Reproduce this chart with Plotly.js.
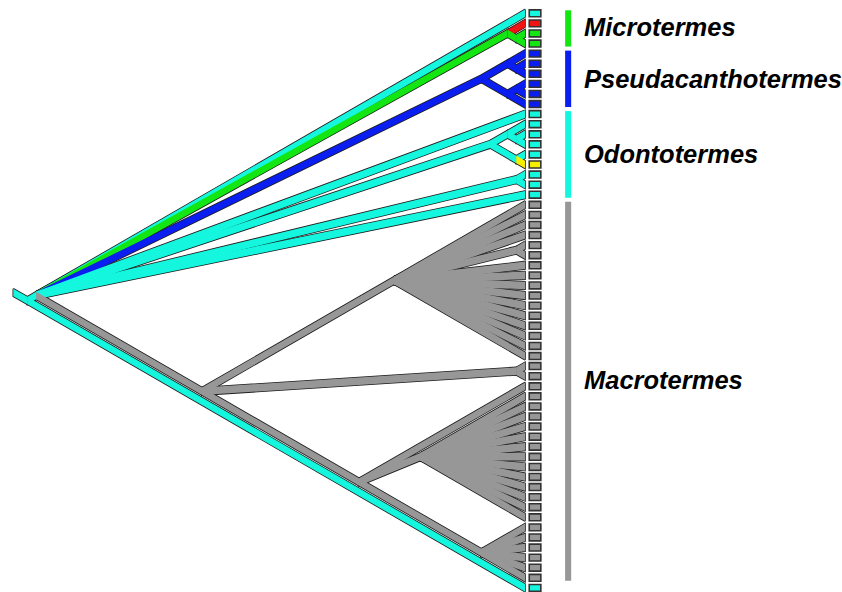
<!DOCTYPE html>
<html>
<head>
<meta charset="utf-8">
<script src="https://cdn.plot.ly/plotly-3.0.1.min.js"></script>
<style>html,body{margin:0;padding:0;background:#fff}</style>
</head>
<body>
<div id="chart" style="width:842px;height:592px"></div>
<script>
// Macrotermitinae cladogram, branches coloured by reconstructed character state.
// Topology (leaf numbers top to bottom, internal nodes labelled with their state).
const treeNewick =
  "((0,(1,(2,3)g)g,((4,(5,6)b)b,((7,8)b,9)b)b,10,((11,(12,13)c)c,(14,15)c)c,(16,17)c,18," +
  "((19,20,21,22,(23,24)m,25,26,27,28,29,30,31,32,33,34)m,(35,36)m," +
  "(37,(38,39,40,41,42,43,44,45,46,47,48,49,50)m,(51,52,53,54,55,56)m)m)m)c,57)c";

// State of every terminal, top to bottom
const leafStates = [
  "c","r","g","g",
  "b","b","b","b","b","b",
  "c","c","c","c","c","y","c","c","c",
  "m","m","m","m","m","m","m","m","m","m","m","m","m","m","m","m","m","m","m",
  "m","m","m","m","m","m","m","m","m","m","m","m","m","m","m","m","m","m","m",
  "c"
];

const stateColors = {c:"#14f7de", r:"#f01414", g:"#14e614", b:"#0a1ef0", y:"#f5f000", m:"#979797"};

// Genus brackets
const cladeNames  = ["Microtermes", "Pseudacanthotermes", "Odontotermes", "Macrotermes"];
const cladeFirst  = [0, 4, 10, 19];
const cladeLast   = [3, 9, 18, 56];
const cladeStates = ["g", "b", "c", "m"];
const labelRows   = [1.4, 6.5, 14, 36.4];

// ---- drawing parameters ----
const SLANT = Math.sqrt(3);   // branches at 30 degrees
const HALF = 0.375;           // half thickness of a branch band (leaf rows)
const STEM = 1.4;             // root stem length
const OUTLINE = "#1e1e1e";

function parseNewick(s) {
  let i = 0;
  function node() {
    const n = {children: []};
    if (s[i] === "(") {
      i++;
      n.children.push(node());
      while (s[i] === ",") { i++; n.children.push(node()); }
      i++;
    }
    let lab = "";
    while (i < s.length && !",()".includes(s[i])) lab += s[i++];
    if (n.children.length) n.state = lab;
    else { n.leaf = +lab; n.state = leafStates[n.leaf]; }
    return n;
  }
  return node();
}

function layoutTree(n) {
  if (!n.children.length) { n.lo = n.hi = n.leaf; n.x = 0; n.y = n.leaf; return; }
  n.children.forEach(layoutTree);
  n.lo = Math.min(...n.children.map(c => c.lo));
  n.hi = Math.max(...n.children.map(c => c.hi));
  n.y = (n.lo + n.hi) / 2;
  n.x = -(n.hi - n.lo) / 2 * SLANT;
}

// collect branches in drawing order
const branches = [];
function collect(n) {
  n.children.forEach(c => { branches.push([n.x, n.y, c.x, c.y, c.state]); collect(c); });
}

const root = parseNewick(treeNewick);
layoutTree(root);
branches.push([root.x - STEM, root.y - STEM / SLANT, root.x, root.y, root.state]);
collect(root);

function bandPath(b) {
  const [x0, y0, x1, y1] = b;
  return {x: [x0, x1, x1, x0, x0], y: [y0 - HALF, y1 - HALF, y1 + HALF, y0 + HALF, y0 - HALF]};
}

const traces = [];
// first pass: dark outlines of every branch
branches.forEach(b => {
  const p = bandPath(b);
  traces.push({
    type: "scatter", mode: "lines", fill: "toself", x: p.x, y: p.y,
    fillcolor: OUTLINE, line: {color: OUTLINE, width: 1.6},
    hoverinfo: "skip", showlegend: false
  });
});
// second pass: coloured branch bodies
branches.forEach(b => {
  const p = bandPath(b);
  traces.push({
    type: "scatter", mode: "lines", fill: "toself", x: p.x, y: p.y,
    fillcolor: stateColors[b[4]], line: {width: 0},
    hoverinfo: "skip", showlegend: false
  });
});

// terminal boxes
const leafIdx = leafStates.map((s, i) => i);
traces.push({
  type: "bar", orientation: "h",
  y: leafIdx, x: leafIdx.map(() => 1.15), base: 0.42, width: 0.68,
  marker: {color: leafStates.map(s => stateColors[s]), line: {color: "#333", width: 1.6}},
  hoverinfo: "skip", showlegend: false
});

// genus brackets
traces.push({
  type: "bar", orientation: "v",
  x: cladeNames.map(() => 4.28),
  base: cladeFirst.map(v => v - 0.3),
  y: cladeFirst.map((v, i) => cladeLast[i] - v + 0.6),
  width: 0.6,
  marker: {color: cladeStates.map(s => stateColors[s]), line: {width: 0}},
  hoverinfo: "skip", showlegend: false
});

const annotations = cladeNames.map((name, i) => ({
  x: 5.65, y: labelRows[i], xref: "x", yref: "y",
  text: "<b><i>" + name + "</i></b>", showarrow: false,
  xanchor: "left", yanchor: "middle",
  font: {family: "Liberation Sans, Arial, sans-serif", size: 25.5, color: "#000"}
}));

const UNIT = 10.08;  // pixels per leaf row
const layout = {
  width: 842, height: 592,
  margin: {l: 0, r: 0, t: 0, b: 0},
  paper_bgcolor: "#fff", plot_bgcolor: "#fff",
  showlegend: false, barmode: "overlay",
  xaxis: {range: [-525 / UNIT, 317 / UNIT], visible: false, fixedrange: true},
  yaxis: {range: [(592 - 13.3) / UNIT, -13.3 / UNIT], visible: false, fixedrange: true},
  annotations: annotations
};

Plotly.newPlot("chart", traces, layout, {displayModeBar: false, staticPlot: true});
</script>
</body>
</html>
